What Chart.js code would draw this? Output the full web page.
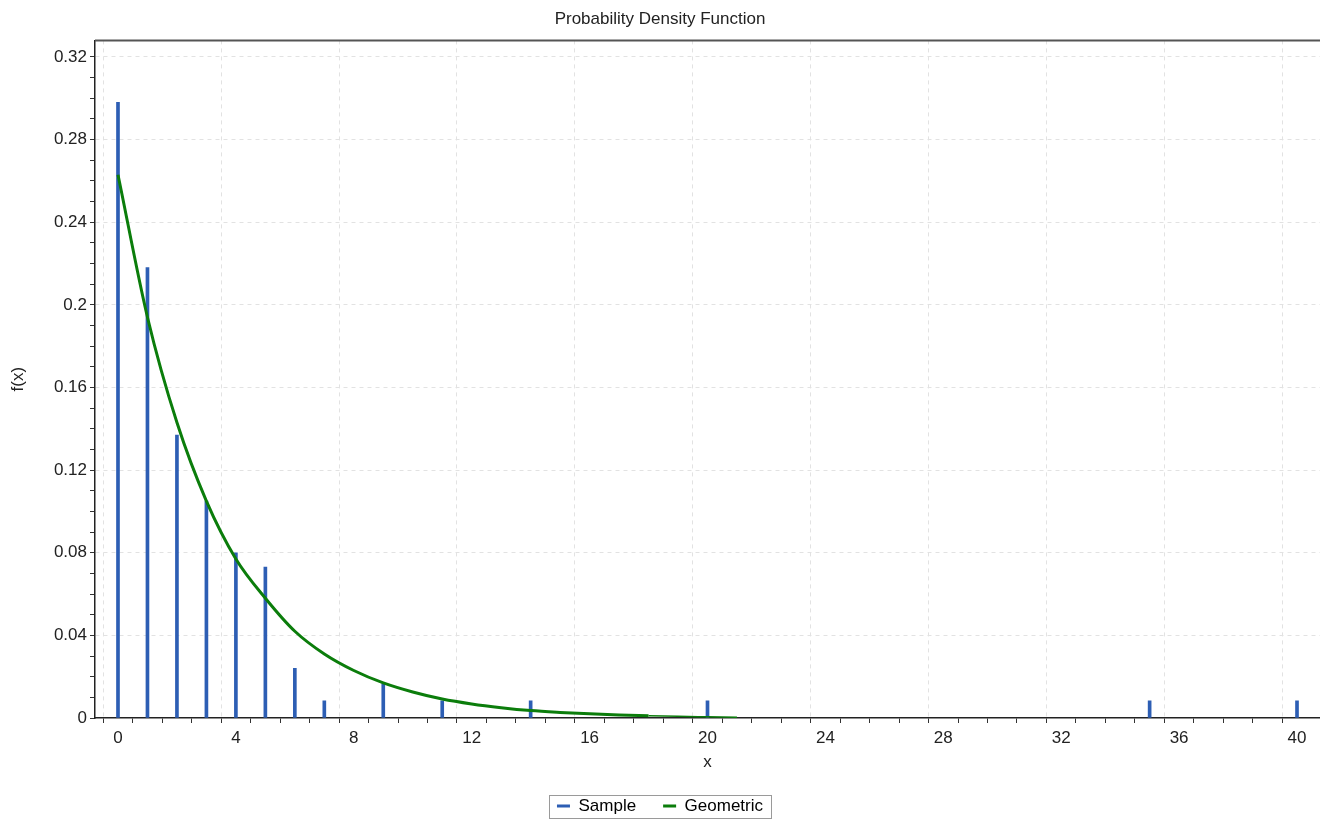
<!DOCTYPE html>
<html>
<head>
<meta charset="utf-8">
<title>Probability Density Function</title>
<script src="https://cdn.jsdelivr.net/npm/chart.js@4.4.0/dist/chart.umd.min.js"></script>
<style>
  html, body { margin: 0; padding: 0; background: #fff; }
  #wrap { width: 1320px; height: 823px; }
</style>
</head>
<body>
<div id="wrap"><canvas id="pdfChart"></canvas></div>
<script>
// sample frequencies
const sampleX = [0, 1, 2, 3, 4, 5, 6, 7, 9, 11, 14, 20, 35, 40];
const sampleY = [0.298, 0.218, 0.137, 0.105, 0.080, 0.073, 0.024, 0.0083, 0.0165, 0.0083, 0.0083, 0.0083, 0.0083, 0.0083];

// fitted geometric curve
const geoX = [0, 1, 2, 3, 4, 5, 6, 7, 8, 9, 10, 11, 12, 13, 14, 15, 16, 17, 18, 19, 20, 21];
const geoY = [0.263, 0.194, 0.143, 0.105, 0.077, 0.058, 0.042, 0.031, 0.023, 0.017, 0.0126, 0.0092,
              0.0068, 0.005, 0.0036, 0.0027, 0.002, 0.0015, 0.0011, 0.0008, 0.0006, 0.0004];

const xMajorTicks = [0, 4, 8, 12, 16, 20, 24, 28, 32, 36, 40];
const yMajorTicks = [0, 0.04, 0.08, 0.12, 0.16, 0.2, 0.24, 0.28, 0.32];

const FONT = "'Liberation Sans', Arial, sans-serif";
const sampleColor = "#2d5eb4";
const geoColor = "#0b7d0b";
const PLOT_BOTTOM = 718;
const LEGEND_MID = 806;
const LEGEND_PAD = 27;

function near(v, list) {
  return list.some(t => Math.abs(v - t) < 1e-6);
}
function isStep(v, step) {
  return Math.abs(v / step - Math.round(v / step)) < 1e-6;
}

// frame line on top of plot + box around legend
const framePlugin = {
  id: "frame",
  afterLayout(chart) {
    // move legend row down to where the original has it
    // (hit boxes are still relative here, legend adds this.top later)
    const lg = chart.legend;
    const hb = lg.legendHitBoxes;
    if (!hb.length) return;
    const d = LEGEND_MID - (lg.top + LEGEND_PAD + hb[0].height / 2);
    lg.top += d;
    lg.bottom += d;
  },
  afterDraw(chart) {
    const ctx = chart.ctx;
    const a = chart.chartArea;
    ctx.save();
    ctx.strokeStyle = "#555";
    ctx.lineWidth = 2;
    ctx.beginPath();
    ctx.moveTo(a.left, a.top);
    ctx.lineTo(a.right, a.top);
    ctx.stroke();

    const hb = chart.legend.legendHitBoxes;
    if (hb.length) {
      const l = Math.min(...hb.map(h => h.left)) - 8;
      const r = Math.max(...hb.map(h => h.left + h.width)) + 8;
      const t = hb[0].top - 3;
      const b = hb[0].top + hb[0].height + 3;
      ctx.strokeStyle = "#9a9a9a";
      ctx.lineWidth = 1;
      ctx.strokeRect(Math.round(l) + 0.5, Math.round(t) + 0.5, Math.round(r - l), Math.round(b - t));
    }
    ctx.restore();
  }
};

const ctx = document.getElementById("pdfChart");

new Chart(ctx, {
  type: "bar",
  data: {
    datasets: [
      {
        type: "bar",
        label: "Sample",
        data: sampleX.map((x, i) => ({ x: x, y: sampleY[i] })),
        backgroundColor: sampleColor,
        borderWidth: 0,
        barThickness: 3,
        grouped: false,
        order: 2
      },
      {
        type: "line",
        label: "Geometric",
        data: geoX.map((x, i) => ({ x: x, y: geoY[i] })),
        borderColor: geoColor,
        backgroundColor: geoColor,
        borderWidth: 3,
        pointRadius: 0,
        cubicInterpolationMode: "monotone",
        segment: {
          borderWidth: c => (c.p0.parsed.x >= 18 ? 1.5 : 3)
        },
        order: 1
      }
    ]
  },
  options: {
    responsive: true,
    maintainAspectRatio: false,
    animation: false,
    layout: { padding: 0 },
    plugins: {
      title: {
        display: true,
        text: "Probability Density Function",
        color: "#222",
        font: { family: FONT, size: 17, weight: "normal" },
        padding: { top: 9, bottom: 11 }
      },
      legend: {
        position: "bottom",
        labels: {
          color: "#222",
          font: { family: FONT, size: 17 },
          boxWidth: 13,
          boxHeight: 3,
          padding: LEGEND_PAD,
          generateLabels: chart => chart.data.datasets.map((ds, i) => ({
            text: ds.label,
            fillStyle: i === 0 ? sampleColor : geoColor,
            strokeStyle: i === 0 ? sampleColor : geoColor,
            lineWidth: 0,
            hidden: false,
            datasetIndex: i
          }))
        }
      },
      tooltip: { enabled: false }
    },
    scales: {
      x: {
        type: "linear",
        min: -0.78,
        max: 40.78,
        offset: false,
        afterFit: scale => {
          scale.height = scale.chart.height - PLOT_BOTTOM - scale.chart.legend.height;
        },
        title: {
          display: true,
          text: "x",
          color: "#222",
          font: { family: FONT, size: 17 },
          padding: { top: 0, bottom: -4 }
        },
        ticks: {
          stepSize: 1,
          includeBounds: false,
          autoSkip: false,
          maxRotation: 0,
          padding: 5,
          color: "#222",
          font: { family: FONT, size: 17 },
          callback: v => (near(v, xMajorTicks) ? String(v) : "")
        },
        grid: {
          drawOnChartArea: true,
          drawTicks: true,
          tickLength: 5,
          color: c => (c.tick && near(c.tick.value, xMajorTicks) ? "#e2e2e2" : "rgba(0,0,0,0)"),
          tickColor: c => (c.tick && isStep(c.tick.value, 1) ? "#333" : "rgba(0,0,0,0)")
        },
        border: { display: true, color: "#222", width: 1.5, dash: [4, 4] }
      },
      y: {
        type: "linear",
        min: 0,
        max: 0.328,
        afterFit: scale => { scale.width = 95; },
        title: {
          display: true,
          text: "f(x)",
          color: "#222",
          font: { family: FONT, size: 17 },
          padding: { top: 8, bottom: 0 }
        },
        ticks: {
          stepSize: 0.01,
          includeBounds: false,
          autoSkip: false,
          padding: 3,
          color: "#222",
          font: { family: FONT, size: 17 },
          callback: v => (near(v, yMajorTicks) ? String(Number(v.toFixed(2))) : "")
        },
        grid: {
          drawOnChartArea: true,
          drawTicks: true,
          tickLength: 5,
          color: c => (c.tick && near(c.tick.value, yMajorTicks) && c.tick.value > 0 ? "#e2e2e2" : "rgba(0,0,0,0)"),
          tickColor: c => (c.tick && isStep(c.tick.value, 0.01) ? "#333" : "rgba(0,0,0,0)")
        },
        border: { display: true, color: "#222", width: 1.5, dash: [4, 4] }
      }
    }
  },
  plugins: [framePlugin]
});
</script>
</body>
</html>
